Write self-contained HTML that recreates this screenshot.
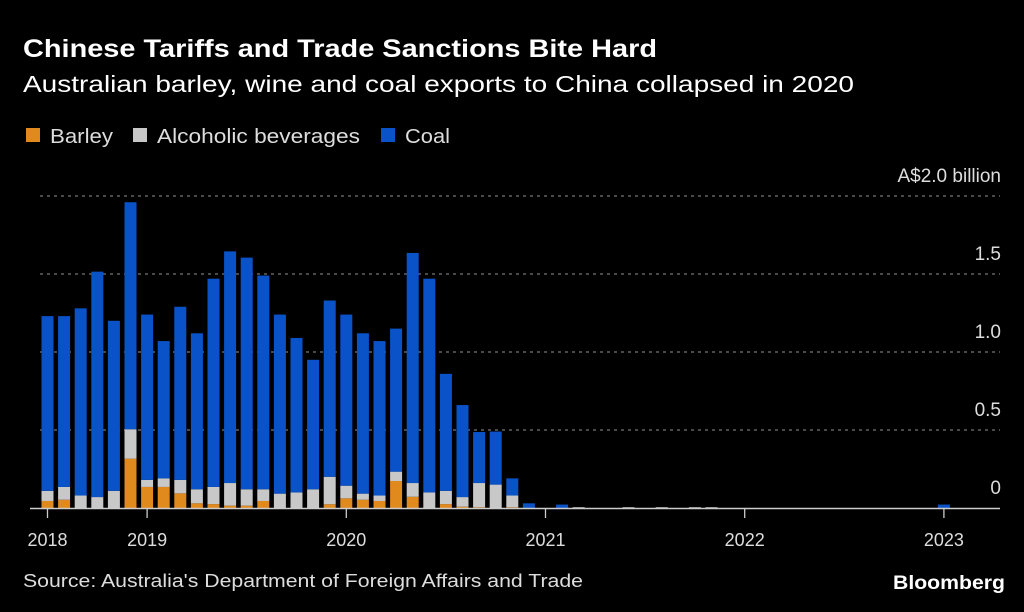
<!DOCTYPE html>
<html><head><meta charset="utf-8"><style>
html,body{margin:0;padding:0;background:#000;}
svg{display:block;font-family:"Liberation Sans",sans-serif;}
</style></head><body>
<svg id="chart" width="1024" height="612" viewBox="0 0 1024 612">
<rect width="1024" height="612" fill="#000"/>
<text x="23" y="57" fill="#fff" font-size="25" font-weight="bold" textLength="634" lengthAdjust="spacingAndGlyphs">Chinese Tariffs and Trade Sanctions Bite Hard</text>
<text x="23" y="92" fill="#fff" font-size="23" textLength="831" lengthAdjust="spacingAndGlyphs">Australian barley, wine and coal exports to China collapsed in 2020</text>
<g>
<rect x="26" y="128" width="14" height="14" fill="#e08a1e"/>
<text x="50" y="143" fill="#ddd" font-size="20" textLength="63" lengthAdjust="spacingAndGlyphs">Barley</text>
<rect x="133" y="128" width="14" height="14" fill="#c8c8c8"/>
<text x="157" y="143" fill="#ddd" font-size="20" textLength="203" lengthAdjust="spacingAndGlyphs">Alcoholic beverages</text>
<rect x="381" y="128" width="14" height="14" fill="#0a52c8"/>
<text x="405" y="143" fill="#ddd" font-size="20" textLength="45" lengthAdjust="spacingAndGlyphs">Coal</text>
</g>
<g id="grid"></g>
<g id="bars"></g>
<g id="axis"></g>
<text x="23" y="587" fill="#ddd" font-size="18" textLength="560" lengthAdjust="spacingAndGlyphs">Source: Australia's Department of Foreign Affairs and Trade</text>
<text x="1005" y="589" fill="#fff" font-size="19" font-weight="bold" text-anchor="end" textLength="112" lengthAdjust="spacingAndGlyphs">Bloomberg</text>
</svg>
<script>
const barley = [0.045,0.053,0,0,0,0.316,0.135,0.135,0.094,0.03,0.025,0.015,0.015,0.045,0,0,0,0.024,0.062,0.053,0.045,0.173,0.072,0,0.025,0.008,0.005,0,0.005,0,0,0,0,0,0,0,0,0,0,0,0,0,0,0,0,0,0,0,0,0,0,0,0,0,0,0,0];
const alcohol = [0.065,0.082,0.08,0.07,0.11,0.189,0.045,0.055,0.086,0.09,0.11,0.145,0.105,0.075,0.092,0.10,0.12,0.176,0.081,0.039,0.035,0.06,0.088,0.10,0.085,0.062,0.155,0.15,0.075,0,0,0,0.005,0,0,0.005,0,0.005,0,0.005,0.005,0,0,0,0,0,0,0,0,0,0,0,0,0,0,0,0];
const coal = [1.12,1.095,1.20,1.445,1.09,1.455,1.06,0.88,1.11,1.0,1.335,1.485,1.485,1.37,1.148,0.99,0.83,1.13,1.097,1.028,0.99,0.917,1.475,1.37,0.75,0.59,0.327,0.34,0.11,0.03,0,0.022,0,0,0,0,0,0,0,0,0,0,0,0,0,0,0,0,0,0,0,0,0,0,0.022,0,0];
const yTicks = [0,0.5,1.0,1.5,2.0];
const yTickLabels = ["0","0.5","1.0","1.5","A$2.0 billion"];
const xTickIndex = [0,6,18,30,42,54];
const xTickLabels = ["2018","2019","2020","2021","2022","2023"];

const NS="http://www.w3.org/2000/svg";
const x0=47.5, pitch=16.6, bw=12;
const xPos=i=>x0+i*pitch;
const yPos=v=>508-v*156;
function mk(tag,attrs,parent){const e=document.createElementNS(NS,tag);for(const k in attrs)e.setAttribute(k,attrs[k]);parent.appendChild(e);return e;}
const grid=document.getElementById('grid'),bars=document.getElementById('bars'),axis=document.getElementById('axis');
yTicks.forEach((t,i)=>{
  if(t>0){const l=mk('line',{x1:40,x2:1000,y1:yPos(t),y2:yPos(t),stroke:'#777','stroke-width':1.3,'stroke-dasharray':'3 4'},grid);
  
  }
  const tx=mk('text',{x:1001,y:yPos(t)-14,fill:'#ddd','font-size':19,'text-anchor':'end'},grid);
  tx.textContent=yTickLabels[i];
  
  
});
coal.forEach((c,i)=>{
  const segs=[[barley[i],'#e08a1e','barley'],[alcohol[i],'#c8c8c8','alcoholic'],[c,'#0a52c8','coal']];
  let base=0;
  segs.forEach(s=>{
    if(s[0]>0){
      const r=mk('rect',{x:xPos(i)-bw/2,y:yPos(base+s[0]),width:bw,height:s[0]*156,fill:s[1]},bars);
      
      
    }
    base+=s[0];
  });
});
const ax=mk('line',{x1:30,x2:1000,y1:508.5,y2:508.5,stroke:'#ccc','stroke-width':1.5},axis);


xTickIndex.forEach((ti,i)=>{
  const x=xPos(ti);
  const tk=mk('line',{x1:x,x2:x,y1:508,y2:518,stroke:'#ccc','stroke-width':1.3},axis);
  
  
  const t=mk('text',{x:x,y:546,fill:'#ddd','font-size':18,'text-anchor':'middle'},axis);
  t.textContent=xTickLabels[i];
  
  
});
</script>
</body></html>
